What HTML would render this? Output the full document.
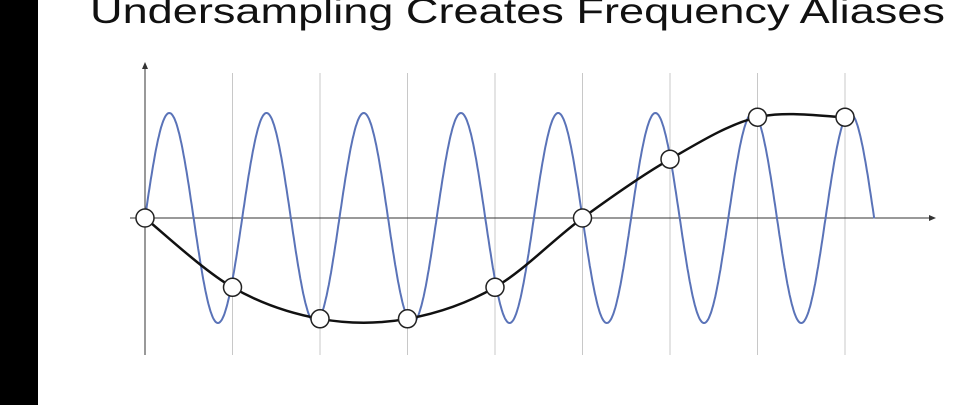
<!DOCTYPE html>
<html><head><meta charset="utf-8"><style>
html,body{margin:0;padding:0;background:#fff;width:967px;height:405px;overflow:hidden}
svg{display:block}
</style></head><body>
<svg id="chart" width="967" height="405" viewBox="0 0 967 405">
<rect x="0" y="0" width="38" height="405" fill="#000"/>
<text x="90" y="23" font-family="Liberation Sans, sans-serif" font-size="35" font-weight="300" fill="#111" textLength="855" lengthAdjust="spacingAndGlyphs">Undersampling Creates Frequency Aliases</text>
<g id="grid"></g>
<g id="axes"></g>
<path id="blue" fill="none" stroke="#5a73b8" stroke-width="2"/>
<path id="black" fill="none" stroke="#111" stroke-width="2.5"/>
<g id="pts"></g>
</svg>
<script>
const sampleIndex = [0,1,2,3,4,5,6,7,8];
const sampleValues = [0,-0.66,-0.96,-0.96,-0.66,0,0.56,0.96,0.96];
// original signal: cycles per sample interval and extent (in sample units)
const signalCyclesPerSample = [0.9];
const signalEnd = [8.334];

const x0=145, dx=87.5, y0=218, amp=105;
const xs = i => x0 + i*dx;
const ys = v => y0 - v*amp;
const NS='http://www.w3.org/2000/svg';
const grid=document.getElementById('grid');
sampleIndex.forEach(i=>{
  const l=document.createElementNS(NS,'line');
  l.setAttribute('x1',xs(i));l.setAttribute('x2',xs(i));
  l.setAttribute('y1',73);l.setAttribute('y2',355);
  l.setAttribute('stroke','#c8c8c8');l.setAttribute('stroke-width','1');
  
  
  grid.appendChild(l);
});
const axes=document.getElementById('axes');
axes.innerHTML='<line x1="130" y1="218" x2="932" y2="218" stroke="#333" stroke-width="1"/>'+
'<polygon points="936,218 929,215 929,221" fill="#333"/>'+
'<line x1="145" y1="66" x2="145" y2="355" stroke="#333" stroke-width="1"/>'+
'<polygon points="145,62 142,69 148,69" fill="#333"/>';
let d='';
const f=signalCyclesPerSample[0];
const N=1000;
for(let k=0;k<=N;k++){
  const t=signalEnd[0]*k/N;
  const val=Math.sin(2*Math.PI*f*t);
  d+=(d?'L':'M')+xs(t).toFixed(1)+','+ys(val).toFixed(1);
}
document.getElementById('blue').setAttribute('d',d);
const P=sampleIndex.map((i,k)=>[xs(i),ys(sampleValues[k])]);
let bd='M'+P[0][0]+','+P[0][1];
for(let k=0;k<P.length-1;k++){
  const p0=P[Math.max(k-1,0)],p1=P[k],p2=P[k+1],p3=P[Math.min(k+2,P.length-1)];
  const c1=[p1[0]+(p2[0]-p0[0])/6,p1[1]+(p2[1]-p0[1])/6];
  const c2=[p2[0]-(p3[0]-p1[0])/6,p2[1]-(p3[1]-p1[1])/6];
  bd+='C'+c1.join(',')+' '+c2.join(',')+' '+p2.join(',');
}
document.getElementById('black').setAttribute('d',bd);
const pts=document.getElementById('pts');
P.forEach(p=>{
  const c=document.createElementNS(NS,'circle');
  c.setAttribute('cx',p[0]);c.setAttribute('cy',p[1]);c.setAttribute('r',9);
  c.setAttribute('fill','#fff');c.setAttribute('stroke','#222');c.setAttribute('stroke-width','1.5');
  
  
  pts.appendChild(c);
});
</script>
</body></html>
